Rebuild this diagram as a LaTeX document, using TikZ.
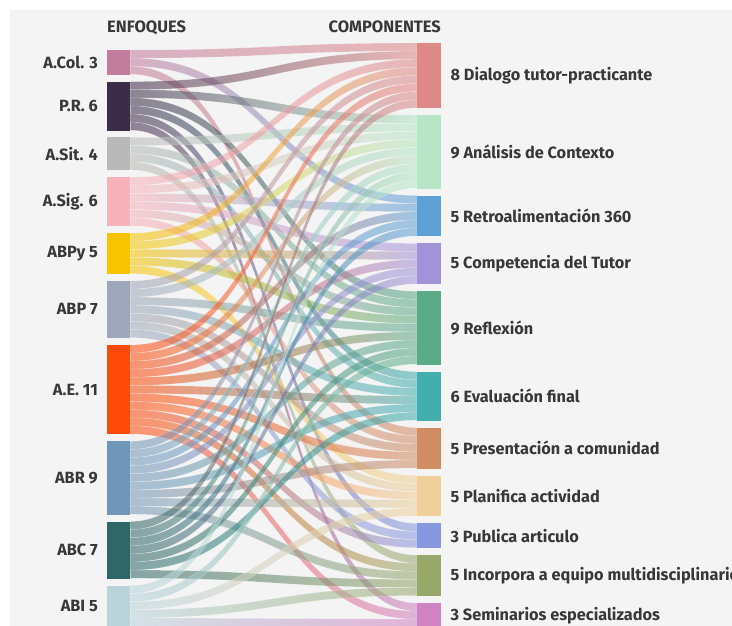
\documentclass[tikz,border=0pt]{standalone}
\usepackage{fontspec}
\setmainfont{Fira Sans}
\usetikzlibrary{calc}
% source colours
\definecolor{c1}{HTML}{C27C9C}
\definecolor{c2}{HTML}{3B2C48}
\definecolor{c3}{HTML}{B9B9B9}
\definecolor{c4}{HTML}{F7B2BA}
\definecolor{c5}{HTML}{F7C400}
\definecolor{c6}{HTML}{9FA8BA}
\definecolor{c7}{HTML}{FF4A0A}
\definecolor{c8}{HTML}{7096B8}
\definecolor{c9}{HTML}{2F6666}
\definecolor{c10}{HTML}{B9D3DB}
% target colours
\definecolor{d1}{HTML}{DE8888}
\definecolor{d2}{HTML}{B6E6C6}
\definecolor{d3}{HTML}{5FA0D6}
\definecolor{d4}{HTML}{A292D8}
\definecolor{d5}{HTML}{5BAA88}
\definecolor{d6}{HTML}{42AEAE}
\definecolor{d7}{HTML}{D08C62}
\definecolor{d8}{HTML}{EFD09A}
\definecolor{d9}{HTML}{8898E0}
\definecolor{d10}{HTML}{98A86A}
\definecolor{d11}{HTML}{D082C2}
\definecolor{bg}{HTML}{F4F4F4}
\definecolor{ink}{HTML}{383838}
\begin{document}
\begin{tikzpicture}[x=1pt,y=-1pt,
  lbar/.style={rectangle, inner sep=0pt, minimum width=23pt},
  rbar/.style={rectangle, inner sep=0pt, minimum width=24pt},
  lab/.style={text=ink, font=\fontsize{16.3}{18}\selectfont\bfseries, inner sep=0pt},
  hdr/.style={text=ink, font=\fontsize{16.5}{18}\selectfont\bfseries, inner sep=0pt},
  flow/.style={fill opacity=0.56, draw=white, draw opacity=0.3, line width=0.4pt}]
\useasboundingbox (0,0) rectangle (732,626);
\fill[white] (0,0) rectangle (732,626);
\fill[bg] (10,10) rectangle (732,626);
% headers
\node[hdr, anchor=base west] (h1) at (107,33) {ENFOQUES};
\node[hdr, anchor=base east] (h2) at (441,33) {COMPONENTES};
% left bars
\foreach \k/\top/\n/\txt in {1/50/3/A.Col. 3, 2/81.6/6/P.R. 6, 3/137.5/4/A.Sit. 4,
  4/177.2/6/A.Sig. 6, 5/233.1/5/ABPy 5, 6/280.9/7/ABP 7, 7/344.9/11/A.E. 11,
  8/441.3/9/ABR 9, 9/521.5/7/ABC 7, 10/585.5/5/ABI 5}{
  \node[lbar, minimum height=\n*8.1pt, anchor=north west] (L\k) at (107,\top) {};
  \node[lab, anchor=east] (tL\k) at ([xshift=-9pt]L\k.west) {\txt};
}
% right bars
\foreach \k/\top/\n/\txt in {1/43/8/8 Dialogo tutor-practicante, 2/115.2/9/9 Análisis de Contexto,
  3/195.5/5/5 Retroalimentación 360, 4/243.4/5/5 Competencia del Tutor, 5/291.3/9/9 Reflexión,
  6/371.6/6/6 Evaluación final, 7/427.6/5/5 Presentación a comunidad, 8/475.5/5/5 Planifica actividad,
  9/523.4/3/3 Publica articulo, 10/555.1/5/5 Incorpora a equipo multidisciplinario,
  11/603/3/3 Seminarios especializados}{
  \node[rbar, minimum height=\n*8.1pt, anchor=north west] (R\k) at (417,\top) {};
  \node[lab, anchor=west] (tR\k) at ([xshift=9pt]R\k.east) {\txt};
}
% flows
\foreach \s/\t/\i/\j in {
 1/1/0/0, 1/3/1/0, 1/7/2/0,
 2/1/0/1, 2/2/1/0, 2/5/2/0, 2/6/3/0, 2/9/4/0, 2/11/5/0,
 3/2/0/1, 3/5/1/1, 3/6/2/1, 3/10/3/0,
 4/1/0/2, 4/2/1/2, 4/3/2/1, 4/4/3/0, 4/5/4/2, 4/7/5/1,
 5/1/0/3, 5/2/1/3, 5/4/2/1, 5/5/3/3, 5/8/4/0,
 6/1/0/4, 6/2/1/4, 6/5/2/4, 6/6/3/2, 6/7/4/2, 6/8/5/1, 6/9/6/1,
 7/1/0/5, 7/2/1/5, 7/3/2/2, 7/4/3/2, 7/5/4/5, 7/6/5/3, 7/7/6/3, 7/8/7/2, 7/9/8/2, 7/10/9/1, 7/11/10/1,
 8/1/0/6, 8/2/1/6, 8/3/2/3, 8/4/3/3, 8/5/4/6, 8/6/5/4, 8/7/6/4, 8/8/7/3, 8/10/8/2,
 9/1/0/7, 9/2/1/7, 9/3/2/4, 9/4/3/4, 9/5/4/7, 9/6/5/5, 9/10/6/3,
 10/2/0/8, 10/5/1/8, 10/8/2/4, 10/10/3/4, 10/11/4/2}{
  \shadedraw[flow, left color=c\s, right color=d\t]
   let \p1=([yshift=-\i*8.1pt]L\s.north east), \p2=([yshift=-\j*8.1pt]R\t.north west) in
   (\x1,\y1) .. controls ({0.5*\x1+0.5*\x2},\y1) and ({0.5*\x1+0.5*\x2},\y2) .. (\x2,\y2)
   -- (\x2,\y2-8.1pt) .. controls ({0.5*\x1+0.5*\x2},\y2-8.1pt) and ({0.5*\x1+0.5*\x2},\y1-8.1pt) .. (\x1,\y1-8.1pt)
   -- cycle;
}
% bar fills on top
\foreach \k in {1,...,10}{ \fill[c\k] (L\k.north west) rectangle (L\k.south east); }
\foreach \k in {1,...,11}{ \fill[d\k] (R\k.north west) rectangle (R\k.south east); }
\end{tikzpicture}
\end{document}
